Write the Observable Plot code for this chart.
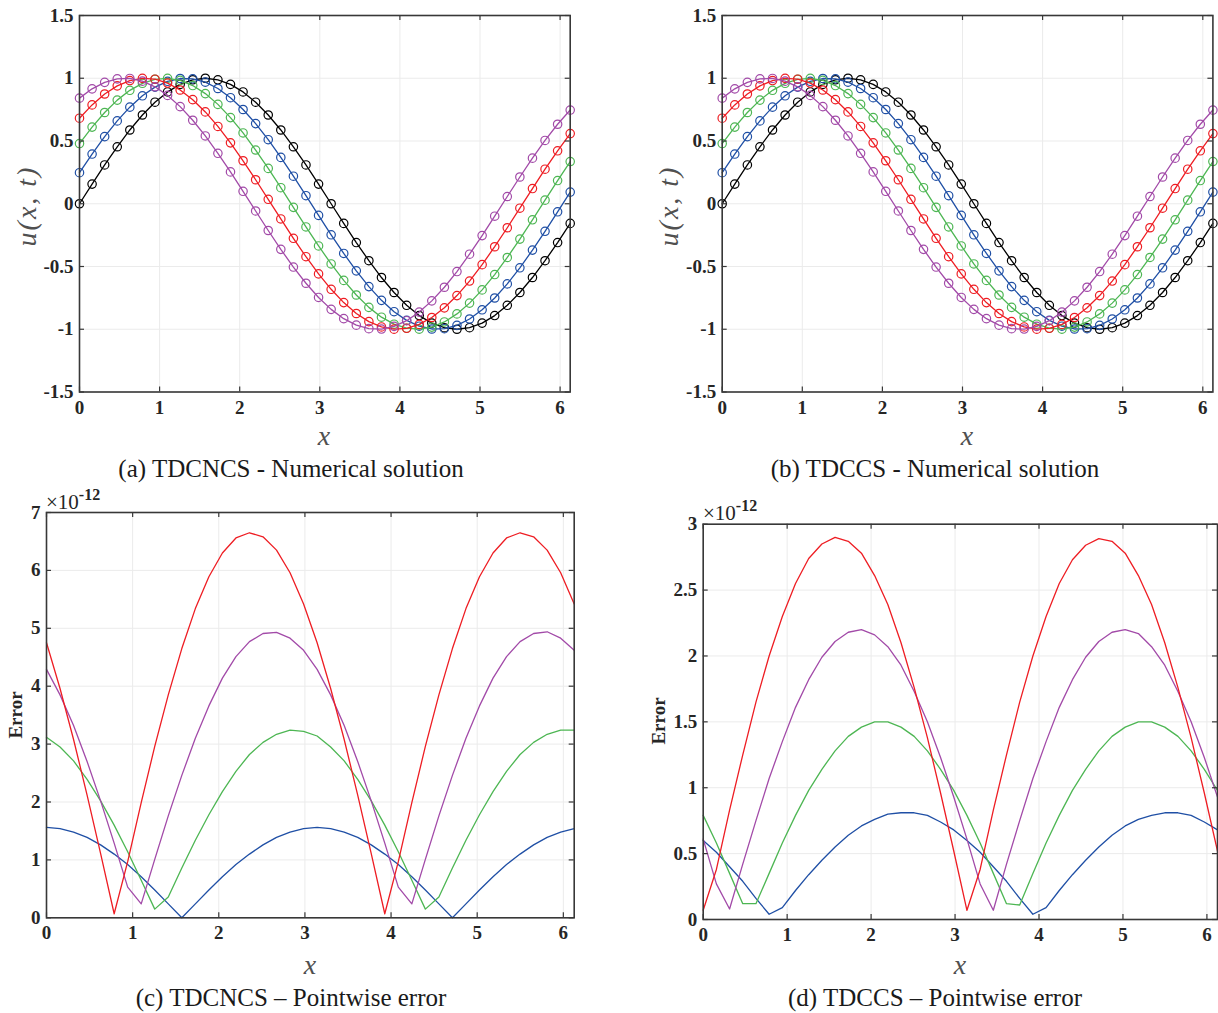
<!DOCTYPE html>
<html>
<head>
<meta charset="utf-8">
<script src="https://cdn.jsdelivr.net/npm/d3@7"></script>
<script src="https://cdn.jsdelivr.net/npm/@observablehq/plot@0.6"></script>
<style>
  html, body { margin: 0; padding: 0; background: #fff; }
  #page { position: relative; width: 1218px; height: 1013px; overflow: hidden; font-family: "Liberation Serif", "Times New Roman", serif; }
  .lbl { position: absolute; white-space: nowrap; color: #262626; transform: translate(-50%, -50%); }
  .cap { font-size: 25px; color: #1a1a1a; }
  .xl { font-style: italic; font-size: 28px; color: #505050; }
  .yl { font-style: italic; font-size: 28px; color: #505050; letter-spacing: 2px; transform: translate(-50%, -50%) rotate(-90deg); }
  .el { font-weight: bold; font-size: 19px; transform: translate(-50%, -50%) rotate(-90deg); }
  .exp { position: absolute; white-space: nowrap; color: #262626; font-size: 21px; line-height: 21px; }
  .exp sup { font-size: 16px; font-weight: bold; vertical-align: 9px; line-height: 0; }
</style>
</head>
<body>
<div id="page"></div>
<script>
// ---------- data ----------
const xValues = [0, 0.1571, 0.3142, 0.4712, 0.6283, 0.7854, 0.9425, 1.0996, 1.2566, 1.4137,
  1.5708, 1.7279, 1.8850, 2.0420, 2.1991, 2.3562, 2.5133, 2.6704, 2.8274, 2.9845,
  3.1416, 3.2987, 3.4558, 3.6128, 3.7699, 3.9270, 4.0841, 4.2412, 4.3982, 4.5553,
  4.7124, 4.8695, 5.0265, 5.1836, 5.3407, 5.4978, 5.6549, 5.8119, 5.9690, 6.1261];

const uBlack = [0, 0.1564, 0.3090, 0.4540, 0.5878, 0.7071, 0.8090, 0.8910, 0.9511, 0.9877,
  1.0000, 0.9877, 0.9511, 0.8910, 0.8090, 0.7071, 0.5878, 0.4540, 0.3090, 0.1564,
  0.0000, -0.1564, -0.3090, -0.4540, -0.5878, -0.7071, -0.8090, -0.8910, -0.9511, -0.9877,
  -1.0000, -0.9877, -0.9511, -0.8910, -0.8090, -0.7071, -0.5878, -0.4540, -0.3090, -0.1564];
const uBlue = [0.2474, 0.3959, 0.5347, 0.6603, 0.7697, 0.8600, 0.9293, 0.9756, 0.9979, 0.9957,
  0.9689, 0.9183, 0.8452, 0.7510, 0.6385, 0.5103, 0.3694, 0.2195, 0.0642, -0.0927,
  -0.2474, -0.3959, -0.5347, -0.6603, -0.7697, -0.8600, -0.9293, -0.9756, -0.9979, -0.9957,
  -0.9689, -0.9183, -0.8452, -0.7510, -0.6385, -0.5103, -0.3694, -0.2195, -0.0642, 0.0927];
const uGreen = [0.4795, 0.6109, 0.7272, 0.8257, 0.9038, 0.9596, 0.9918, 0.9996, 0.9828, 0.9418,
  0.8776, 0.7918, 0.6865, 0.5643, 0.4281, 0.2815, 0.1279, -0.0288, -0.1848, -0.3363,
  -0.4795, -0.6109, -0.7272, -0.8257, -0.9038, -0.9596, -0.9918, -0.9996, -0.9828, -0.9418,
  -0.8776, -0.7918, -0.6865, -0.5643, -0.4281, -0.2815, -0.1279, 0.0288, 0.1848, 0.3363];
const uRed = [0.6816, 0.7877, 0.8744, 0.9395, 0.9815, 0.9994, 0.9926, 0.9614, 0.9065, 0.8293,
  0.7317, 0.6161, 0.4853, 0.3425, 0.1913, 0.0354, -0.1213, -0.2751, -0.4221, -0.5588,
  -0.6816, -0.7877, -0.8744, -0.9395, -0.9815, -0.9994, -0.9926, -0.9614, -0.9065, -0.8293,
  -0.7317, -0.6161, -0.4853, -0.3425, -0.1913, -0.0354, 0.1213, 0.2751, 0.4221, 0.5588];
const uMagenta = [0.8415, 0.9156, 0.9673, 0.9951, 0.9983, 0.9770, 0.9317, 0.8634, 0.7738, 0.6652,
  0.5403, 0.4020, 0.2538, 0.0993, -0.0576, -0.2130, -0.3633, -0.5045, -0.6334, -0.7468,
  -0.8415, -0.9156, -0.9673, -0.9951, -0.9983, -0.9770, -0.9317, -0.8634, -0.7738, -0.6652,
  -0.5403, -0.4020, -0.2538, -0.0993, 0.0576, 0.2130, 0.3633, 0.5045, 0.6334, 0.7468];

// pointwise errors (units of 1e-12)
const errCBlue = [1.56, 1.54, 1.48, 1.39, 1.26, 1.10, 0.92, 0.71, 0.48, 0.24,
  0.00, 0.24, 0.48, 0.71, 0.92, 1.10, 1.26, 1.39, 1.48, 1.54,
  1.56, 1.54, 1.48, 1.39, 1.26, 1.10, 0.92, 0.71, 0.48, 0.24,
  0.00, 0.24, 0.48, 0.71, 0.92, 1.10, 1.26, 1.39, 1.48, 1.54];
const errCGreen = [3.12, 2.95, 2.71, 2.39, 2.02, 1.60, 1.14, 0.65, 0.15, 0.36,
  0.86, 1.34, 1.78, 2.18, 2.53, 2.82, 3.03, 3.17, 3.24, 3.22,
  3.14, 2.95, 2.71, 2.39, 2.02, 1.60, 1.14, 0.65, 0.15, 0.36,
  0.86, 1.34, 1.78, 2.18, 2.53, 2.82, 3.03, 3.17, 3.24, 3.24];
const errCPurple = [4.29, 3.85, 3.32, 2.70, 2.02, 1.29, 0.53, 0.24, 1.01, 1.76,
  2.46, 3.10, 3.66, 4.14, 4.51, 4.77, 4.91, 4.93, 4.83, 4.62,
  4.29, 3.85, 3.32, 2.70, 2.02, 1.29, 0.53, 0.24, 1.01, 1.76,
  2.46, 3.10, 3.66, 4.14, 4.51, 4.77, 4.91, 4.94, 4.83, 4.62];
const errCRed = [4.75, 3.96, 3.08, 2.12, 1.11, 0.07, 0.97, 1.99, 2.96, 3.85,
  4.65, 5.34, 5.89, 6.30, 6.56, 6.65, 6.58, 6.35, 5.96, 5.42,
  4.75, 3.96, 3.08, 2.12, 1.11, 0.07, 0.97, 1.99, 2.96, 3.85,
  4.65, 5.34, 5.89, 6.30, 6.56, 6.65, 6.58, 6.35, 5.96, 5.42];

const errDBlue = [0.60, 0.51, 0.40, 0.29, 0.16, 0.04, 0.09, 0.22, 0.34, 0.45,
  0.55, 0.64, 0.71, 0.76, 0.80, 0.81, 0.81, 0.79, 0.74, 0.68,
  0.60, 0.51, 0.40, 0.29, 0.16, 0.04, 0.09, 0.22, 0.34, 0.45,
  0.55, 0.64, 0.71, 0.76, 0.79, 0.81, 0.81, 0.79, 0.74, 0.68];
const errDGreen = [0.79, 0.58, 0.35, 0.12, 0.12, 0.35, 0.58, 0.79, 0.98, 1.14,
  1.28, 1.39, 1.46, 1.50, 1.50, 1.46, 1.39, 1.28, 1.14, 0.98,
  0.79, 0.58, 0.35, 0.12, 0.11, 0.35, 0.58, 0.79, 0.98, 1.14,
  1.28, 1.39, 1.46, 1.50, 1.50, 1.46, 1.39, 1.28, 1.14, 0.98];
const errDPurple = [0.61, 0.27, 0.08, 0.42, 0.75, 1.07, 1.35, 1.61, 1.82, 1.99,
  2.11, 2.18, 2.20, 2.16, 2.07, 1.93, 1.73, 1.50, 1.23, 0.93,
  0.61, 0.27, 0.07, 0.42, 0.75, 1.07, 1.35, 1.61, 1.82, 1.99,
  2.11, 2.18, 2.20, 2.17, 2.07, 1.93, 1.73, 1.50, 1.23, 0.93];
const errDRed = [0.07, 0.38, 0.83, 1.25, 1.65, 2.00, 2.30, 2.55, 2.74, 2.85,
  2.90, 2.87, 2.78, 2.61, 2.39, 2.10, 1.76, 1.38, 0.96, 0.52,
  0.07, 0.38, 0.83, 1.25, 1.65, 2.00, 2.30, 2.55, 2.73, 2.84,
  2.89, 2.87, 2.78, 2.61, 2.39, 2.10, 1.76, 1.38, 0.96, 0.52];

const xTicks = [0, 1, 2, 3, 4, 5, 6];
const xTickLabels = ["0", "1", "2", "3", "4", "5", "6"];
const uTicks = [-1.5, -1, -0.5, 0, 0.5, 1, 1.5];
const uTickLabels = ["-1.5", "-1", "-0.5", "0", "0.5", "1", "1.5"];
const errCTicks = [0, 1, 2, 3, 4, 5, 6, 7];
const errCTickLabels = ["0", "1", "2", "3", "4", "5", "6", "7"];
const errDTicks = [0, 0.5, 1, 1.5, 2, 2.5, 3];
const errDTickLabels = ["0", "0.5", "1", "1.5", "2", "2.5", "3"];

const colBlack = "#000000", colBlue = "#1f4fa5", colGreen = "#4db653", colRed = "#ee1d23", colPurple = "#a24aa8";

const captions = ["(a) TDCNCS - Numerical solution", "(b) TDCCS - Numerical solution",
  "(c) TDCNCS \u2013 Pointwise error", "(d) TDCCS \u2013 Pointwise error"];

// ---------- drawing ----------
const page = document.getElementById("page");
const FRAME = "#383838";
const TICKFONT = {fontSize: 19, fontWeight: "bold", fontFamily: "'Liberation Serif', 'Times New Roman', serif", fill: "#262626"};

function makePanel(cfg) {
  const {left, top, width, height, frame, yDomain, yTicks, yTickLabels, series, dots} = cfg;
  const mL = frame.l - left, mT = frame.t - top, mR = left + width - frame.r, mB = top + height - frame.b;
  const pw = frame.r - frame.l, ph = frame.b - frame.t;
  const xLab = new Map(xTicks.map((d, i) => [d, xTickLabels[i]]));
  const yLab = new Map(yTicks.map((d, i) => [d, yTickLabels[i]]));
  const marks = [
    Plot.gridX(xTicks, {stroke: "#ebebeb", strokeOpacity: 1, strokeWidth: 1}),
    Plot.gridY(yTicks, {stroke: "#ebebeb", strokeOpacity: 1, strokeWidth: 1})
  ];
  for (const s of series) {
    const rows = xValues.map((x, i) => ({x, y: s.values[i]}));
    marks.push(Plot.line(rows, {x: "x", y: "y", stroke: s.color, strokeWidth: 1.3}));
    if (dots) marks.push(Plot.dot(rows, {x: "x", y: "y", r: 4.2, stroke: s.color, strokeWidth: 1.2, fill: "none"}));
  }
  marks.push(
    Plot.ruleX(xTicks, {x: d => d, insetTop: ph - 5, stroke: FRAME, strokeWidth: 1.2}),
    Plot.ruleX(xTicks, {x: d => d, insetBottom: ph - 5, stroke: FRAME, strokeWidth: 1.2}),
    Plot.ruleY(yTicks, {y: d => d, insetRight: pw - 5, stroke: FRAME, strokeWidth: 1.2}),
    Plot.ruleY(yTicks, {y: d => d, insetLeft: pw - 5, stroke: FRAME, strokeWidth: 1.2}),
    Plot.frame({stroke: FRAME, strokeWidth: 1.6}),
    Plot.axisX(xTicks, {...TICKFONT, tickSize: 0, tickPadding: 8, tickFormat: d => xLab.get(d), label: null}),
    Plot.axisY(yTicks, {...TICKFONT, tickSize: 0, tickPadding: 6, tickFormat: d => yLab.get(d), label: null})
  );
  const svg = Plot.plot({
    width, height, marginLeft: mL, marginTop: mT, marginRight: mR, marginBottom: mB,
    x: {domain: [xValues[0], xValues[xValues.length - 1]]},
    y: {domain: yDomain},
    style: {fontFamily: "'Liberation Serif', 'Times New Roman', serif", fontSize: "19px", fontWeight: "bold", color: "#262626", background: "transparent", overflow: "visible"},
    marks
  });
  svg.style.position = "absolute";
  svg.style.left = left + "px";
  svg.style.top = top + "px";
  page.appendChild(svg);
}

const topSeries = [
  {values: uBlack, color: colBlack},
  {values: uBlue, color: colBlue},
  {values: uGreen, color: colGreen},
  {values: uRed, color: colRed},
  {values: uMagenta, color: colPurple}
];

makePanel({left: 0, top: 0, width: 600, height: 430, frame: {l: 79, t: 15, r: 569.7, b: 391.5},
  yDomain: [-1.5, 1.5], yTicks: uTicks, yTickLabels: uTickLabels, series: topSeries, dots: true});
makePanel({left: 640, top: 0, width: 578, height: 430, frame: {l: 721.7, t: 15, r: 1212.4, b: 391.5},
  yDomain: [-1.5, 1.5], yTicks: uTicks, yTickLabels: uTickLabels, series: topSeries, dots: true});
makePanel({left: 0, top: 480, width: 600, height: 480, frame: {l: 46, t: 512, r: 573.7, b: 917.3},
  yDomain: [0, 7], yTicks: errCTicks, yTickLabels: errCTickLabels, dots: false,
  series: [{values: errCBlue, color: colBlue}, {values: errCGreen, color: colGreen},
           {values: errCPurple, color: colPurple}, {values: errCRed, color: colRed}]});
makePanel({left: 640, top: 480, width: 578, height: 480, frame: {l: 702.7, t: 523.7, r: 1217, b: 919},
  yDomain: [0, 3], yTicks: errDTicks, yTickLabels: errDTickLabels, dots: false,
  series: [{values: errDBlue, color: colBlue}, {values: errDGreen, color: colGreen},
           {values: errDPurple, color: colPurple}, {values: errDRed, color: colRed}]});

function label(text, cls, cx, cy) {
  const d = document.createElement("div");
  d.className = "lbl " + cls;
  d.textContent = text;
  d.style.left = cx + "px";
  d.style.top = cy + "px";
  page.appendChild(d);
}
label("x", "xl", 324, 436);
label("x", "xl", 967, 436);
label("x", "xl", 310, 965);
label("x", "xl", 960, 965);
label("u(x, t)", "yl", 27, 206);
label("u(x, t)", "yl", 669, 206);
label("Error", "el", 15.5, 714.5);
label("Error", "el", 658.5, 721);
label(captions[0], "cap", 291, 469);
label(captions[1], "cap", 935, 469);
label(captions[2], "cap", 291, 998);
label(captions[3], "cap", 935, 998);

function expo(x, top) {
  const d = document.createElement("div");
  d.className = "exp";
  d.innerHTML = "\u00d710<sup>-12</sup>";
  d.style.left = x + "px";
  d.style.top = top + "px";
  page.appendChild(d);
}
expo(46, 492);
expo(703, 503);
</script>
</body>
</html>
